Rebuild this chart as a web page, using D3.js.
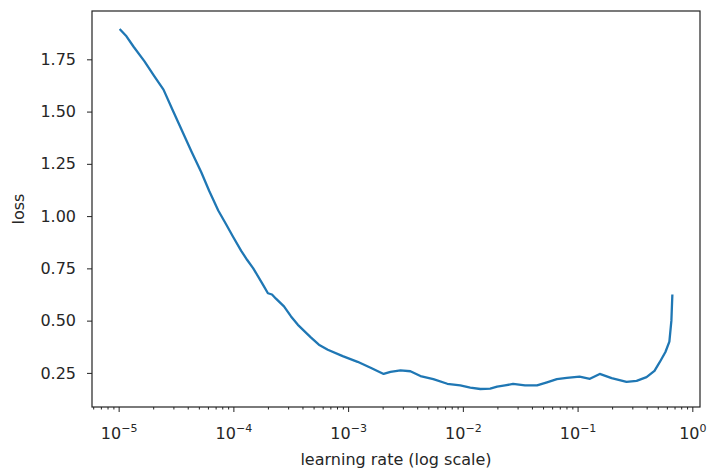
<!DOCTYPE html>
<head>
<meta charset="utf-8">
<title>LR finder</title>
<style>
   body {
		   margin: 0;
		   background: #fff;
   }
   text {
		   font-family: "DejaVu Sans", sans-serif;
		   fill: #262626;
   }
</style>
</head>
<body>
<div id="chartDiv"></div>
<script src="https://d3js.org/d3.v7.min.js"></script>
<script>

   //	Data

   var lrs = [1.02e-5, 1.17e-5, 1.35e-5, 1.68e-5, 2.05e-5, 2.46e-5, 2.94e-5, 3.52e-5, 4.30e-5, 5.25e-5,
	   6.16e-5, 7.38e-5, 8.66e-5, 9.96e-5, 1.17e-4, 1.32e-4, 1.49e-4, 1.82e-4, 2.00e-4, 2.17e-4,
	   2.35e-4, 2.76e-4, 3.18e-4, 3.65e-4, 4.73e-4, 5.56e-4, 6.65e-4, 8.97e-4, 1.21e-3, 1.57e-3,
	   2.04e-3, 2.34e-3, 2.86e-3, 3.49e-3, 4.27e-3, 5.53e-3, 7.32e-3, 9.49e-3, 1.16e-2, 1.42e-2,
	   1.73e-2, 1.99e-2, 2.33e-2, 2.74e-2, 3.48e-2, 4.43e-2, 5.41e-2, 6.60e-2, 8.05e-2, 0.104,
	   0.128, 0.156, 0.198, 0.267, 0.327, 0.399, 0.468, 0.518, 0.583, 0.631, 0.657, 0.670];
   var losses = [1.895, 1.86, 1.81, 1.74, 1.668, 1.605, 1.51, 1.415, 1.31, 1.21,
	   1.12, 1.027, 0.96, 0.90, 0.834, 0.79, 0.75, 0.67, 0.631, 0.625,
	   0.605, 0.568, 0.52, 0.48, 0.42, 0.385, 0.361, 0.33, 0.303, 0.275,
	   0.245, 0.255, 0.262, 0.258, 0.235, 0.22, 0.198, 0.19, 0.18, 0.173,
	   0.175, 0.184, 0.19, 0.197, 0.19, 0.19, 0.205, 0.22, 0.226, 0.232,
	   0.222, 0.245, 0.225, 0.207, 0.212, 0.23, 0.26, 0.30, 0.35, 0.40, 0.50, 0.625];

   var yTicks = [0.25, 0.50, 0.75, 1.00, 1.25, 1.50, 1.75];
   var xDecades = [-5, -4, -3, -2, -1, 0];

   var width = 710, height = 471;
   var mLeft = 92, mRight = 700, mTop = 11, mBottom = 407;

   var svg = d3.select("#chartDiv")
	 .append("svg")
	   .attr("width", width)
	   .attr("height", height);

   // matplotlib style 5% margins
   var lx0 = Math.log10(d3.min(lrs)), lx1 = Math.log10(d3.max(lrs));
   var ly0 = d3.min(losses), ly1 = d3.max(losses);
   var mx = (lx1 - lx0) * 0.05, my = (ly1 - ly0) * 0.05;

   var x = d3.scaleLog()
	   .domain([Math.pow(10, lx0 - mx), Math.pow(10, lx1 + mx)])
	   .range([mLeft, mRight]);
   var y = d3.scaleLinear()
	   .domain([ly0 - my, ly1 + my])
	   .range([mBottom, mTop]);

   //	Curve

   var line = d3.line()
	   .x(function(d, i) { return x(lrs[i]); })
	   .y(function(d) { return y(d); });

   svg.append("path")
	   .datum(losses)
	   .attr("d", line)
	   .attr("fill", "none")
	   .attr("stroke", "#1f77b4")
	   .attr("stroke-width", 2.3)
	   .attr("stroke-linejoin", "round");

   //	Axes

   var yAxis = d3.axisLeft(y)
	   .tickValues(yTicks)
	   .tickSize(5)
	   .tickPadding(11)
	   .tickFormat(d3.format(".2f"));
   var gy = svg.append("g")
	   .attr("transform", "translate(" + mLeft + ",0)")
	   .call(yAxis);
   gy.select(".domain").remove();
   gy.selectAll("text").style("font-size", "16px").style("font-family", "DejaVu Sans").attr("fill", "#262626");
   gy.selectAll("line").attr("stroke", "#222");

   var minors = [];
   d3.range(-6, 1).forEach(function(e) {
	   for (var k = 2; k < 10; k++) {
		   var v = k * Math.pow(10, e);
		   if (v > x.domain()[0] && v < x.domain()[1]) minors.push(v);
	   }
   });

   var gxMinor = svg.append("g")
	   .attr("transform", "translate(0," + mBottom + ")")
	   .call(d3.axisBottom(x).tickValues(minors).tickSize(2.5).tickFormat(""));
   gxMinor.select(".domain").remove();
   gxMinor.selectAll("line").attr("stroke", "#222");

   var gx = svg.append("g")
	   .attr("transform", "translate(0," + mBottom + ")")
	   .call(d3.axisBottom(x)
		   .tickValues(xDecades.map(function(e) { return Math.pow(10, e); }))
		   .tickSize(5)
		   .tickFormat(""));
   gx.select(".domain").remove();
   gx.selectAll("line").attr("stroke", "#222");
   gx.selectAll(".tick text").remove();
   gx.selectAll(".tick").data(xDecades).each(function(e) {
	   var t = d3.select(this).append("text")
		   .attr("y", 32)
		   .attr("text-anchor", "middle")
		   .style("font-size", "16px")
		   .style("fill", "#262626");
	   t.append("tspan").text("10");
	   t.append("tspan")
		   .attr("dy", -7)
		   .style("font-size", "11px")
		   .text(e === 0 ? "0" : "\u2212" + (-e));
   });

   // frame
   svg.append("rect")
	   .attr("x", mLeft)
	   .attr("y", mTop)
	   .attr("width", mRight - mLeft)
	   .attr("height", mBottom - mTop)
	   .attr("fill", "none")
	   .attr("stroke", "#222")
	   .attr("stroke-width", 1.2);

   //	Labels

   svg.append("text")
	   .attr("x", (mLeft + mRight) / 2)
	   .attr("y", 465)
	   .attr("text-anchor", "middle")
	   .style("font-size", "16px")
	   .text("learning rate (log scale)");

   svg.append("text")
	   .attr("transform", "translate(24," + (mTop + mBottom) / 2 + ") rotate(-90)")
	   .attr("text-anchor", "middle")
	   .style("font-size", "16px")
	   .text("loss");
</script>
</body>
